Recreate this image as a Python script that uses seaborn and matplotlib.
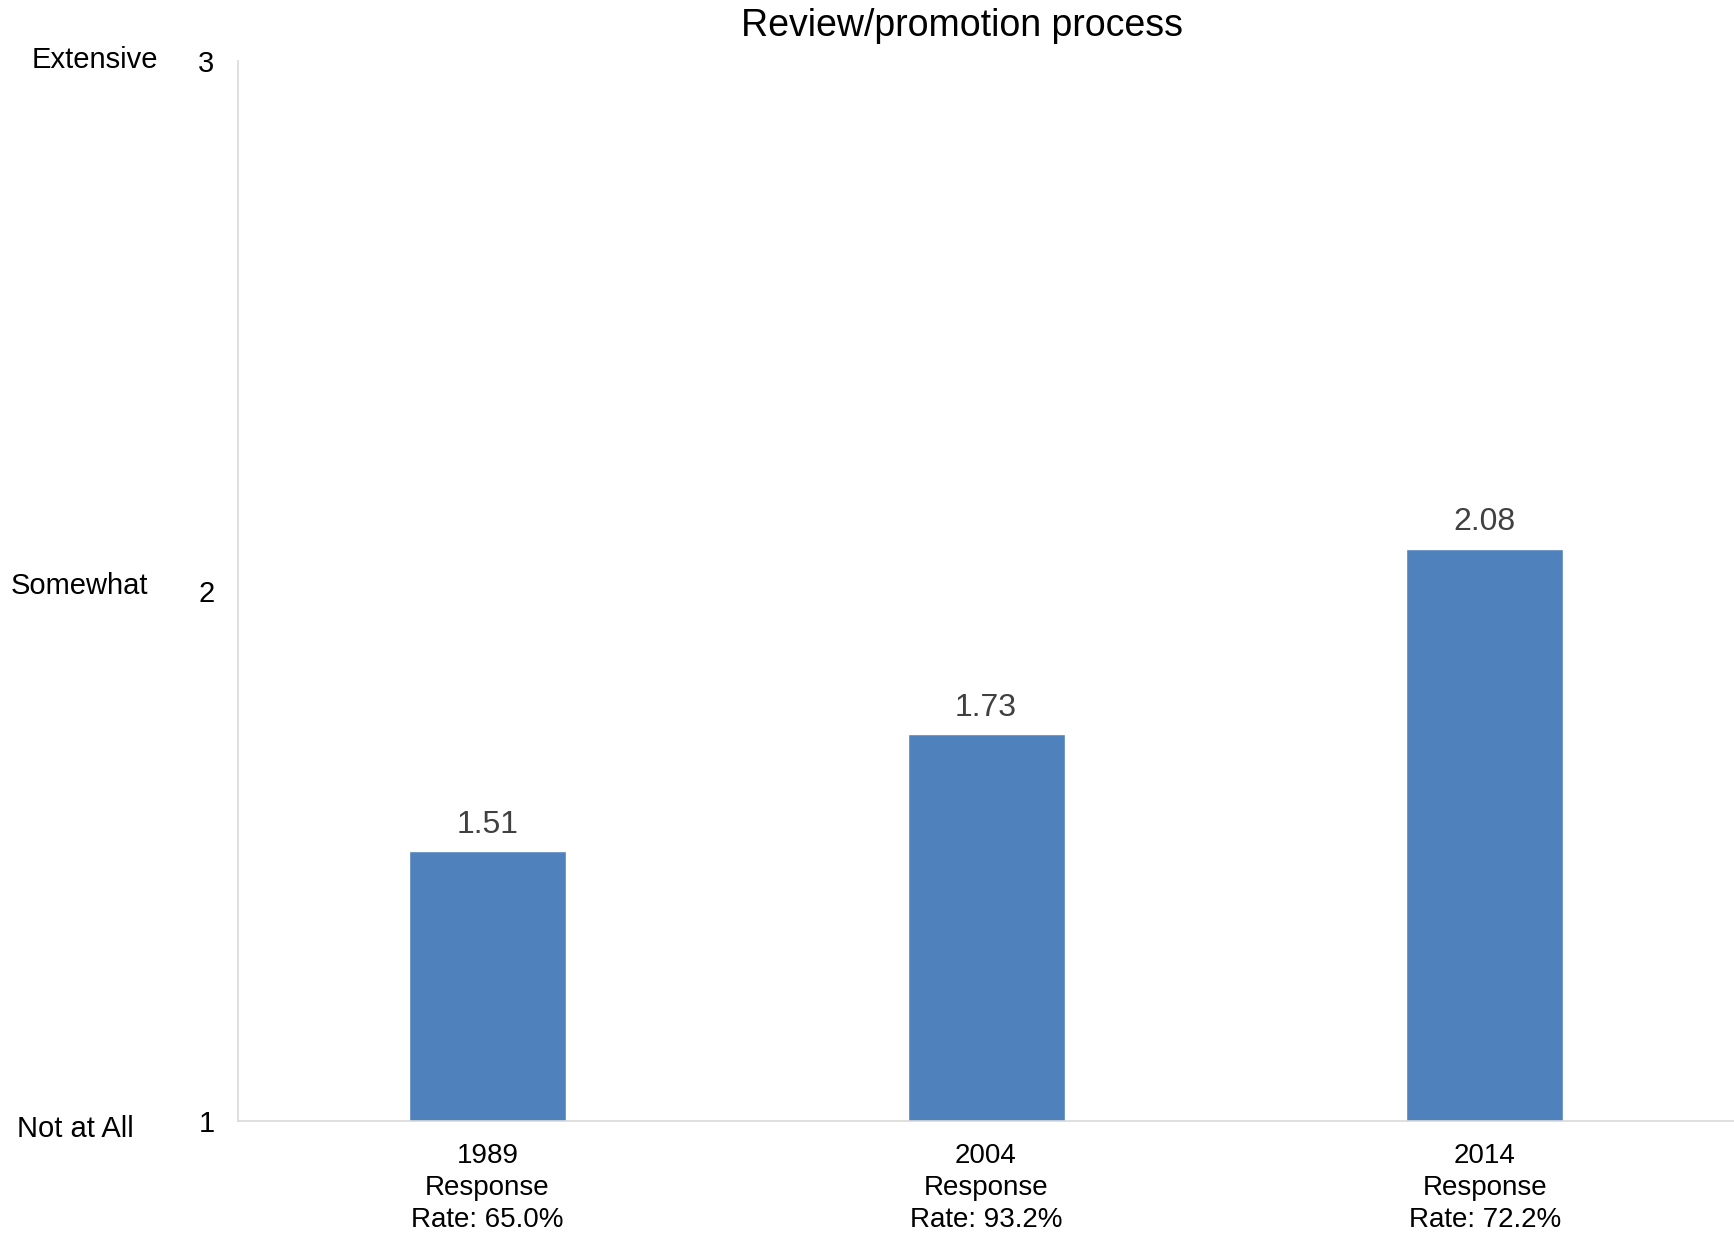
import seaborn as sns
import matplotlib.pyplot as plt
import matplotlib.transforms as mtransforms
import pandas as pd

sns.set_style("white")
plt.rcParams['font.family'] = ['Liberation Sans', 'DejaVu Sans']

# data
years = ['1989', '2004', '2014']
response_rates = ['65.0%', '93.2%', '72.2%']
scores = [1.51, 1.73, 2.08]
scale_labels = ['Not at All', 'Somewhat', 'Extensive']
scale_values = [1, 2, 3]

categories = [f"{y}\nResponse\nRate: {r}" for y, r in zip(years, response_rates)]
df = pd.DataFrame({'category': categories, 'score': scores})

fig = plt.figure(figsize=(17.34, 12.35), dpi=100)
ax = fig.add_axes([0.1373, 0.0923, 0.8627, 0.8583])

sns.barplot(data=df, x='category', y='score', color='#4F81BD',
            saturation=1, width=0.315, ax=ax)

ax.set_ylim(1, 3)
ax.set_xlim(-0.5, 2.5)
ax.set_yticks(scale_values)
ax.set_yticklabels([str(v) for v in scale_values])
ax.set_xlabel('')
ax.set_ylabel('')

for side in ['top', 'right']:
    ax.spines[side].set_visible(False)
ax.spines['left'].set_color('#D9D9D9')
ax.spines['bottom'].set_color('#D9D9D9')
ax.spines['left'].set_linewidth(1.2)
ax.spines['bottom'].set_linewidth(1.2)

ax.tick_params(axis='y', length=6, color='#D9D9D9', labelsize=21, pad=11,
               labelcolor='black')
ax.tick_params(axis='x', length=0, labelsize=20, pad=16, labelcolor='black')
for lbl in ax.get_xticklabels():
    lbl.set_linespacing(1.3)

# value labels above bars
for i, v in enumerate(scores):
    ax.annotate(f"{v:.2f}", xy=(i, v), xytext=(0, 8), textcoords='offset points',
                ha='center', va='bottom', fontsize=23, color='#404040')

# verbal scale labels on the left
trans = mtransforms.blended_transform_factory(ax.transAxes, ax.transData)
label_x = [-0.148, -0.152, -0.138]
label_dy = [-0.016, 0.01, 0.002]
for lab, val, lx, dy in zip(scale_labels, scale_values, label_x, label_dy):
    ax.text(lx, val + dy, lab, transform=trans, ha='left', va='center',
            fontsize=21, color='black')

fig.text(0.555, 0.979, 'Review/promotion process', ha='center', va='center',
         fontsize=27, color='black')

fig.savefig('out.png', dpi=100)
